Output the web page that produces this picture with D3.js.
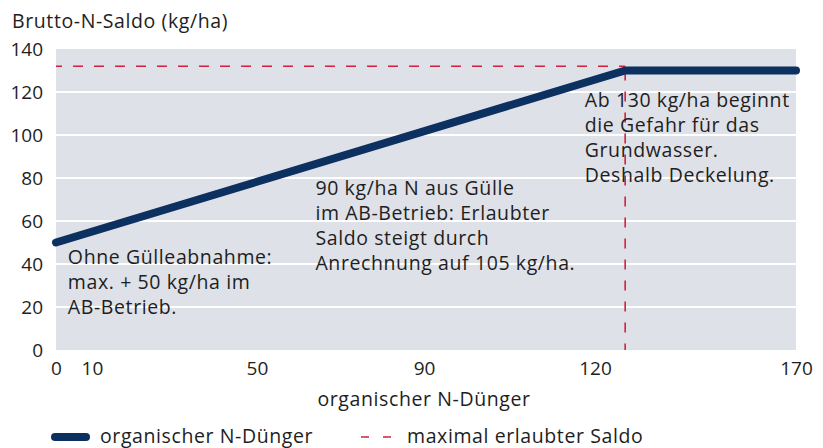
<!DOCTYPE html>
<html><head><meta charset="utf-8">
<script src="https://cdn.jsdelivr.net/npm/d3@7"></script>
<style>
html,body{margin:0;padding:0;background:#fff;}
svg{display:block;font-family:"Open Sans", "Noto Sans", sans-serif;}
</style></head>
<body>
<svg id="chart" width="823" height="448"></svg>
<script>
// ---- data ----
const xTicks = [0, 10, 50, 90, 120, 170];
const yTicks = [0, 20, 40, 60, 80, 100, 120, 140];
const seriesX = [0, 127.5, 170];
const seriesY = [50, 130, 130];
const limitX = 127.5;
const limitY = 132;
const yTitle = "Brutto-N-Saldo (kg/ha)";
const xTitle = "organischer N-Dünger";
const legendLabels = ["organischer N-Dünger", "maximal erlaubter Saldo"];
const notes = [
  {x: 3.3, y: 40, lines: ["Ohne Gülleabnahme:", "max. + 50 kg/ha im", "AB-Betrieb."]},
  {x: 64, y: 72, lines: ["90 kg/ha N aus Gülle", "im AB-Betrieb: Erlaubter", "Saldo steigt durch", "Anrechnung auf 105 kg/ha."]},
  {x: 118.2, y: 113, lines: ["Ab 130 kg/ha beginnt", "die Gefahr für das", "Grundwasser.", "Deshalb Deckelung."]}
];

// ---- layout ----
const L = 56, R = 796, T = 49, B = 350;
const W = R - L;
const svg = d3.select("#chart");
const navy = "#0c305f", red = "#d2213d", txt = "#1e1e1e";
const fs = 19.5, ls = 0.6;

// x axis is not evenly spaced in the original: piecewise linear scale
const xFrac = [0, 0.0486, 0.2716, 0.4973, 0.7284, 1];
const x = d3.scaleLinear().domain(xTicks).range(xFrac.map(f => L + f * W));
const y = d3.scaleLinear().domain([0, 140]).range([B, T]);

// plot background
svg.append("rect").attr("x", L).attr("y", T).attr("width", W).attr("height", B - T).attr("fill", "#dfe1e8");

// gridlines
svg.append("g").selectAll("line").data(yTicks.filter(d => d > 0 && d < 140)).join("line")
  .attr("x1", L).attr("x2", R).attr("y1", d => y(d)).attr("y2", d => y(d))
  .attr("stroke", "#fff").attr("stroke-width", 2);

// y axis labels
const yAx = svg.append("g").attr("transform", `translate(${L},0)`)
  .call(d3.axisLeft(y).tickValues(yTicks).tickSize(0).tickPadding(13));
yAx.select(".domain").remove();
yAx.selectAll("text").attr("font-size", 19).attr("fill", txt).attr("font-family", "'Open Sans', sans-serif");

// x axis labels
const xAx = svg.append("g").attr("transform", `translate(0,${B})`)
  .call(d3.axisBottom(x).tickValues(xTicks).tickSize(0).tickPadding(12).tickFormat(d3.format("d")));
xAx.select(".domain").remove();
xAx.selectAll("text").attr("font-size", 19).attr("fill", txt).attr("font-family", "'Open Sans', sans-serif");

// titles
svg.append("text").attr("x", 12).attr("y", 28).attr("font-size", fs).attr("letter-spacing", ls).attr("fill", txt).text(yTitle);
svg.append("text").attr("x", 424).attr("y", 406).attr("text-anchor", "middle")
  .attr("font-size", fs).attr("letter-spacing", ls).attr("fill", txt).text(xTitle);

// limit dashed lines
svg.append("line").attr("x1", x(0)).attr("x2", x(limitX)).attr("y1", y(limitY)).attr("y2", y(limitY))
  .attr("stroke", red).attr("stroke-width", 1.6).attr("stroke-dasharray", "10,11").attr("stroke-dashoffset", 4);
svg.append("line").attr("x1", x(limitX)).attr("x2", x(limitX)).attr("y1", y(seriesY[1])).attr("y2", B)
  .attr("stroke", red).attr("stroke-width", 1.6).attr("stroke-dasharray", "10,11");

// series line
const pts = seriesX.map((d, i) => [d, seriesY[i]]);
svg.append("path").datum(pts)
  .attr("d", d3.line().x(d => x(d[0])).y(d => y(d[1])))
  .attr("fill", "none").attr("stroke", navy).attr("stroke-width", 8)
  .attr("stroke-linecap", "round").attr("stroke-linejoin", "round");

// annotations
notes.forEach(n => {
  const t = svg.append("text").attr("x", x(n.x)).attr("y", y(n.y))
    .attr("font-size", fs).attr("letter-spacing", ls).attr("fill", txt);
  n.lines.forEach((l, i) => t.append("tspan").attr("x", x(n.x)).attr("dy", i ? 25 : 0).text(l));
});

// legend
const lg = svg.append("g").attr("transform", "translate(0,437)");
lg.append("line").attr("x1", 55).attr("x2", 86).attr("y1", 0).attr("y2", 0)
  .attr("stroke", navy).attr("stroke-width", 8).attr("stroke-linecap", "round");
lg.append("text").attr("x", 100).attr("y", 5.5).attr("font-size", fs).attr("letter-spacing", ls).attr("fill", txt).text(legendLabels[0]);
lg.append("line").attr("x1", 361).attr("x2", 391).attr("y1", 0).attr("y2", 0)
  .attr("stroke", red).attr("stroke-width", 1.6).attr("stroke-dasharray", "8,14");
lg.append("text").attr("x", 407).attr("y", 5.5).attr("font-size", fs).attr("letter-spacing", ls).attr("fill", txt).text(legendLabels[1]);
</script>
</body></html>
